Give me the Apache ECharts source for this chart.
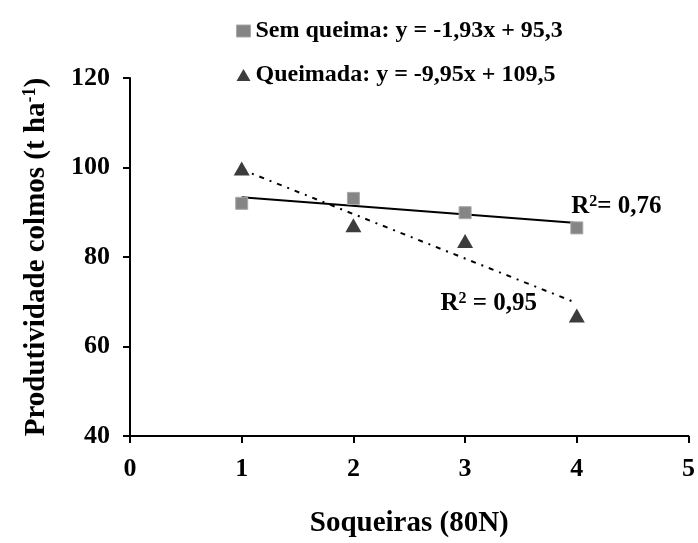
<!DOCTYPE html>
<html>
<head>
<meta charset="utf-8">
<script src="https://cdn.jsdelivr.net/npm/echarts@6/dist/echarts.min.js"></script>
<style>
  html, body { margin: 0; padding: 0; background: #fff; }
  #chart { width: 698px; height: 543px; }
</style>
</head>
<body>
<div id="chart"></div>
<script>
// Soqueiras (ratoon cycles) on the x axis
const soqueiras = [1, 2, 3, 4];
// Stalk yield (t/ha) per treatment
const semQueima = [92.0, 93.1, 89.9, 86.5];
const queimada = [99.8, 87.1, 83.6, 66.9];
// Fitted linear trends: [slope, intercept]
const fitSem = [-1.93, 95.3];
const fitQueimada = [-9.95, 109.5];
const r2Sem = '0,76';
const r2Queimada = '0,95';
const xTicks = [0, 1, 2, 3, 4, 5];
const yTicks = [40, 60, 80, 100, 120];

const FONT = '"Liberation Serif", "Times New Roman", serif';

function pairs(xs, ys) { return xs.map((x, i) => [x, ys[i]]); }
function trendEnds(fit) {
  const x0 = soqueiras[0], x1 = soqueiras[soqueiras.length - 1];
  return [[x0, fit[0] * x0 + fit[1]], [x1, fit[0] * x1 + fit[1]]];
}

const nameSem = 'Sem queima: y = -1,93x + 95,3';
const nameQueimada = 'Queimada: y = -9,95x + 109,5';

function supRich(base, sup, lift) {
  return {
    a: { fontFamily: FONT, fontWeight: 'bold', fontSize: base, color: '#000' },
    s: { fontFamily: FONT, fontWeight: 'bold', fontSize: sup, color: '#000', padding: [0, 0, lift, 0] }
  };
}

const chart = echarts.init(document.getElementById('chart'), null, { renderer: 'canvas' });
chart.setOption({
  animation: false,
  backgroundColor: '#fff',
  grid: { left: 130, right: 9, top: 78, bottom: 105, containLabel: false },
  legend: {
    orient: 'vertical',
    left: 231,
    top: 14,
    itemGap: 20,
    itemWidth: 14,
    itemHeight: 12,
    selectedMode: false,
    textStyle: { fontFamily: FONT, fontWeight: 'bold', fontSize: 24, color: '#000' },
    data: [
      { name: nameSem, icon: 'rect', itemStyle: { color: '#858585', borderColor: '#a8a8a8', borderWidth: 1 } },
      { name: nameQueimada, icon: 'triangle', itemStyle: { color: '#3c3c3c' } }
    ]
  },
  xAxis: {
    type: 'value',
    min: xTicks[0],
    max: xTicks[xTicks.length - 1],
    interval: 1,
    splitLine: { show: false },
    axisLine: { lineStyle: { color: '#000', width: 2 } },
    axisTick: { show: true, length: 7, lineStyle: { color: '#000', width: 2 } },
    axisLabel: { margin: 20, fontFamily: FONT, fontWeight: 'bold', fontSize: 26, color: '#000' },
    name: 'Soqueiras (80N)',
    nameLocation: 'middle',
    nameGap: 73,
    nameTextStyle: { fontFamily: FONT, fontWeight: 'bold', fontSize: 29, color: '#000' }
  },
  yAxis: {
    type: 'value',
    min: yTicks[0],
    max: yTicks[yTicks.length - 1],
    interval: 20,
    splitLine: { show: false },
    axisLine: { onZero: false, lineStyle: { color: '#000', width: 2 } },
    axisTick: { show: true, length: 7, lineStyle: { color: '#000', width: 2 } },
    axisLabel: { margin: 20, fontFamily: FONT, fontWeight: 'bold', fontSize: 26, color: '#000' },
    name: '{a|Produtividade colmos (t ha}{s|-1}{a|)}',
    nameLocation: 'middle',
    nameGap: 78,
    nameTextStyle: { rich: supRich(29, 18, 13) }
  },
  series: [
    {
      name: nameSem,
      type: 'scatter',
      symbol: 'rect',
      symbolSize: 12,
      itemStyle: { color: '#858585', borderColor: '#a8a8a8', borderWidth: 1, opacity: 1 },
      data: pairs(soqueiras, semQueima),
      z: 3
    },
    {
      name: nameQueimada,
      type: 'scatter',
      symbol: 'triangle',
      symbolSize: [16, 14],
      itemStyle: { color: '#3c3c3c', opacity: 1 },
      data: pairs(soqueiras, queimada),
      z: 3
    },
    {
      name: 'trend-sem',
      type: 'line',
      showSymbol: false,
      symbol: 'none',
      silent: true,
      lineStyle: { color: '#000', width: 2 },
      data: trendEnds(fitSem),
      markPoint: {
        symbol: 'circle', symbolSize: 0,
        data: [{ coord: [3.95, 91.2] }],
        label: {
          show: true, position: 'right', distance: 0,
          formatter: '{a|R}{s|2}{a|= ' + r2Sem + '}',
          rich: supRich(25, 16, 11)
        }
      },
      z: 2
    },
    {
      name: 'trend-queimada',
      type: 'line',
      showSymbol: false,
      symbol: 'none',
      silent: true,
      lineStyle: { color: '#000', width: 2, type: [5, 6, 2, 6] },
      data: trendEnds(fitQueimada),
      markPoint: {
        symbol: 'circle', symbolSize: 0,
        data: [{ coord: [2.78, 69.5] }],
        label: {
          show: true, position: 'right', distance: 0,
          formatter: '{a|R}{s|2}{a| = ' + r2Queimada + '}',
          rich: supRich(25, 16, 11)
        }
      },
      z: 2
    }
  ]
});
</script>
</body>
</html>
